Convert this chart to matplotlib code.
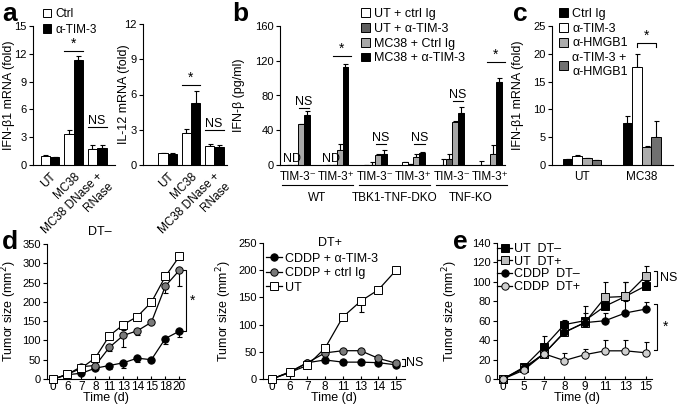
import numpy as np
import matplotlib.pyplot as plt

plt.rcParams['font.family'] = ['Liberation Sans', 'DejaVu Sans']
plt.rcParams['font.size'] = 8
plt.rcParams['axes.labelsize'] = 9
plt.rcParams['axes.linewidth'] = 0.8
plt.rcParams['xtick.major.size'] = 3
plt.rcParams['ytick.major.size'] = 3
plt.rcParams['xtick.major.width'] = 0.8
plt.rcParams['ytick.major.width'] = 0.8
plt.rcParams['xtick.major.pad'] = 2
plt.rcParams['ytick.major.pad'] = 1.5

# ---- panel a ----
a_groups = ['UT', 'MC38', 'MC38 DNase +\nRNase']
ifn_ctrl = [1.0, 3.3, 1.75]
ifn_ctrl_err = [0.05, 0.45, 0.4]
ifn_tim3 = [0.85, 11.3, 1.8]
ifn_tim3_err = [0.05, 0.45, 0.4]
il12_ctrl = [1.0, 2.7, 1.65]
il12_ctrl_err = [0.03, 0.35, 0.1]
il12_tim3 = [0.95, 5.3, 1.5]
il12_tim3_err = [0.03, 1.0, 0.2]

# ---- panel b ----
b_cells = ['TIM-3⁻', 'TIM-3⁺', 'TIM-3⁻', 'TIM-3⁺', 'TIM-3⁻', 'TIM-3⁺']
b_strains = ['WT', 'TBK1-TNF-DKO', 'TNF-KO']
b_series = ['UT + ctrl Ig', 'UT + α-TIM-3', 'MC38 + Ctrl Ig', 'MC38 + α-TIM-3']
b_ut_ctrl = [0, 0, 0, 3, 0, 0]
b_ut_ctrl_err = [0, 0, 0, 1, 7, 5]
b_ut_tim3 = [0, 0, 0, 1, 7, 0]
b_ut_tim3_err = [0, 0, 3, 0.5, 6, 0]
b_mc_ctrl = [47, 17, 12, 9, 49, 13]
b_mc_ctrl_err = [0.5, 7, 1, 4, 2, 10]
b_mc_tim3 = [57, 113, 13, 14, 60, 95]
b_mc_tim3_err = [5, 3, 4, 1, 7, 5]
b_nd = [True, True, False, False, False, False]
b_sig = ['NS', '*', 'NS', 'NS', 'NS', '*']
b_sig_y = [66, 126, 24, 24, 74, 119]

# ---- panel c ----
c_groups = ['UT', 'MC38']
c_series = ['Ctrl Ig', 'α-TIM-3', 'α-HMGB1', 'α-TIM-3 +\nα-HMGB1']
c_ctrl = [1.0, 7.6]
c_ctrl_err = [0.05, 1.2]
c_tim3 = [1.7, 17.6]
c_tim3_err = [0.1, 2.3]
c_hmgb1 = [1.2, 3.3]
c_hmgb1_err = [0.05, 0.1]
c_both = [0.9, 5.1]
c_both_err = [0.05, 2.9]

# ---- panel d ----
d1_days = ['0', '6', '7', '8', '11', '13', '14', '15', '18', '20']
d1_ut = [0, 12, 28, 55, 112, 141, 162, 199, 266, 318]
d1_ut_lo = [0, 2, 3, 5, 5, 15, 5, 5, 5, 5]
d1_ctrl = [0, 12, 32, 35, 82, 113, 125, 147, 241, 282]
d1_ctrl_lo = [0, 2, 3, 5, 10, 29, 12, 5, 18, 40]
d1_tim3 = [0, 11, 15, 28, 35, 42, 54, 50, 105, 124]
d1_tim3_lo = [0, 2, 3, 4, 8, 13, 11, 5, 15, 15]

d2_days = ['0', '6', '7', '8', '11', '13', '14', '15']
d2_ut = [0, 12, 25, 57, 114, 143, 164, 200]
d2_ut_lo = [0, 2, 3, 5, 4, 20, 3, 4]
d2_ctrl = [0, 13, 30, 48, 52, 52, 38, 29]
d2_ctrl_lo = [0, 2, 3, 4, 3, 3, 3, 3]
d2_tim3 = [0, 12, 30, 35, 31, 31, 30, 26]
d2_tim3_lo = [0, 2, 3, 6, 5, 5, 4, 4]

# ---- panel e ----
e_days = ['0', '5', '7', '8', '9', '11', '13', '15']
e_ut_m = [0, 12, 33, 56, 60, 75, 85, 96]
e_ut_m_hi = [0, 3, 11, 5, 15, 10, 15, 5]
e_ut_p = [0, 11, 26, 48, 58, 84, 85, 106]
e_ut_p_hi = [0, 3, 5, 5, 10, 16, 15, 10]
e_cddp_m = [0, 11, 26, 48, 58, 60, 68, 72]
e_cddp_m_hi = [0, 3, 5, 5, 5, 8, 12, 7]
e_cddp_p = [0, 9, 26, 19, 25, 29, 29, 27]
e_cddp_p_hi = [0, 3, 5, 8, 6, 11, 11, 11]

W, H = 677, 412
fig = plt.figure(figsize=(W / 100, H / 100), dpi=100)


def box(x0, x1, y0, y1):
    ax = fig.add_axes([x0 / W, 1 - y1 / H, (x1 - x0) / W, (y1 - y0) / H])
    ax.spines[['top', 'right']].set_visible(False)
    return ax


def ftext(x, y, s, **kw):
    fig.text(x / W, 1 - y / H, s, **kw)


def bars(ax, x, vals, errs, color, w):
    errs = np.asarray(errs, float)
    b = ax.bar(x, vals, w, color=color, edgecolor='black', linewidth=0.7, zorder=2)
    ax.errorbar(x, vals, yerr=[np.zeros_like(errs), errs], fmt='none', ecolor='black',
                elinewidth=0.8, capsize=1.8, capthick=0.8, zorder=1)
    return b


def sig(ax, x0, x1, y, s, dy=0.0):
    ax.plot([x0, x1], [y, y], color='black', lw=0.8, clip_on=False)
    ax.text((x0 + x1) / 2, y + dy, s, ha='center', va='bottom',
            fontsize=9 if s == 'NS' else 10, clip_on=False)


def leg_kw(**kw):
    d = dict(frameon=False, handlelength=0.7, handleheight=0.7, handletextpad=0.35,
             labelspacing=0.3, borderpad=0, borderaxespad=0, fontsize=8.5)
    d.update(kw)
    return d


# panel labels
for lab, x, y in [('a', 10, 14), ('b', 240, 14), ('c', 520, 14), ('d', 10, 242), ('e', 460, 242)]:
    ftext(x, y, lab, fontsize=19, fontweight='bold', ha='center', va='center')

# ---------- a1 ----------
w = 0.4
xa = np.arange(3)
ax = box(33, 115, 26, 165)
h1 = bars(ax, xa - w / 2, ifn_ctrl, ifn_ctrl_err, 'white', w)
h2 = bars(ax, xa + w / 2, ifn_tim3, ifn_tim3_err, 'black', w)
ax.set_xlim(-0.72, 2.76)
ax.set_ylim(0, 15)
ax.set_yticks([0, 3, 6, 9, 12, 15])
ax.set_xticks(xa)
ax.set_xticklabels(a_groups, rotation=45, ha='right', rotation_mode='anchor',
                   multialignment='right', fontsize=8.5)
ax.tick_params(axis='x', length=0, pad=4)
ax.set_ylabel('IFN-β1 mRNA (fold)')
ax.yaxis.set_label_coords(-0.22, 0.5)
sig(ax, 1 - w, 1 + w, 12.3, '*')
sig(ax, 2 - w, 2 + w, 4.1, 'NS')
fig.legend([h1, h2], ['Ctrl', 'α-TIM-3'], loc='upper left',
           bbox_to_anchor=(43 / W, 1 - 8 / H), **leg_kw())

# ---------- a2 ----------
ax = box(143, 227, 24, 165)
bars(ax, xa - w / 2, il12_ctrl, il12_ctrl_err, 'white', w)
bars(ax, xa + w / 2, il12_tim3, il12_tim3_err, 'black', w)
ax.set_xlim(-1.05, 2.55)
ax.set_ylim(0, 12)
ax.set_yticks([0, 3, 6, 9, 12])
ax.set_xticks(xa)
ax.set_xticklabels(a_groups, rotation=45, ha='right', rotation_mode='anchor',
                   multialignment='right', fontsize=8.5)
ax.tick_params(axis='x', length=0, pad=4)
ax.set_ylabel('IL-12 mRNA (fold)')
ax.yaxis.set_label_coords(-0.16, 0.5)
sig(ax, 1 - w, 1 + w, 6.8, '*')
sig(ax, 2 - w, 2 + w, 3.0, 'NS')

# ---------- b ----------
wb = 0.155
xb = np.arange(6)
ax = box(280, 505, 26, 165)
hb = [bars(ax, xb - 1.5 * wb, b_ut_ctrl, b_ut_ctrl_err, 'white', wb),
      bars(ax, xb - 0.5 * wb, b_ut_tim3, b_ut_tim3_err, '#5e5e5e', wb),
      bars(ax, xb + 0.5 * wb, b_mc_ctrl, b_mc_ctrl_err, '#a8a8a8', wb),
      bars(ax, xb + 1.5 * wb, b_mc_tim3, b_mc_tim3_err, 'black', wb)]
ax.set_xlim(-0.47, 5.38)
ax.set_ylim(0, 160)
ax.set_yticks([0, 40, 80, 120, 160])
ax.set_xticks(xb)
ax.set_xticklabels(b_cells, fontsize=8.5)
ax.tick_params(axis='x', length=0, pad=4)
ax.set_ylabel('IFN-β (pg/ml)')
ax.yaxis.set_label_coords(-0.155, 0.5)
for i in range(6):
    if b_nd[i]:
        ax.text(xb[i] - wb, 0.5, 'ND', ha='center', va='bottom', fontsize=9)
    if b_sig[i] == 'NS':
        sig(ax, xb[i] + 0.5 * wb - 0.06, xb[i] + 1.5 * wb + 0.06, b_sig_y[i], 'NS')
    else:
        sig(ax, xb[i] - 0.1, xb[i] + 1.5 * wb + 0.15, b_sig_y[i], '*')
tr = ax.get_xaxis_transform()
for k, name in enumerate(b_strains):
    ax.plot([2 * k - 0.42, 2 * k + 1.43], [-0.144, -0.144], color='black', lw=0.8,
            transform=tr, clip_on=False)
    ax.text(2 * k + 0.5, -0.235, name, ha='center', va='center', transform=tr, fontsize=8.5)
fig.legend(hb, b_series, loc='upper left', bbox_to_anchor=(361 / W, 1 - 8 / H),
           **leg_kw(fontsize=9, labelspacing=0.22))

# ---------- c ----------
wc = 0.16
xc = np.arange(2)
ax = box(552, 673, 26, 165)
hc = [bars(ax, xc - 1.5 * wc, c_ctrl, c_ctrl_err, 'black', wc),
      bars(ax, xc - 0.5 * wc, c_tim3, c_tim3_err, 'white', wc),
      bars(ax, xc + 0.5 * wc, c_hmgb1, c_hmgb1_err, '#acacac', wc),
      bars(ax, xc + 1.5 * wc, c_both, c_both_err, '#707070', wc)]
ax.set_xlim(-0.5, 1.52)
ax.set_ylim(0, 25)
ax.set_yticks([0, 5, 10, 15, 20, 25])
ax.set_xticks(xc)
ax.set_xticklabels(c_groups, fontsize=8.5)
ax.tick_params(axis='x', length=0, pad=4)
ax.set_ylabel('IFN-β1 mRNA (fold)')
ax.yaxis.set_label_coords(-0.23, 0.5)
bx0, bx1 = 1 - 0.5 * wc, 1 + 1.5 * wc
ax.plot([bx0, bx0, bx1, bx1], [21.2, 21.9, 21.9, 21.2], color='black', lw=0.8)
ax.text((bx0 + bx1) / 2, 21.9, '*', ha='center', va='bottom', fontsize=10)
fig.legend(hc, c_series, loc='upper left', bbox_to_anchor=(559 / W, 1 - 8 / H),
           **leg_kw(fontsize=9, labelspacing=0.22))


def curve(ax, y, lo, hi, marker, face, label=None):
    x = np.arange(len(y))
    ax.errorbar(x, y, yerr=[lo, hi], fmt='none', ecolor='black', elinewidth=0.8,
                capsize=1.8, capthick=0.8, zorder=1)
    return ax.plot(x, y, '-', color='black', lw=0.9, marker=marker, markersize=5.3,
                   markerfacecolor=face, markeredgecolor='black', markeredgewidth=0.7,
                   label=label, zorder=3, clip_on=False)[0]


def time_axis(ax, days, xc_px, x0_px, w_px):
    ax.set_xticks(range(len(days)))
    ax.set_xticklabels(days, fontsize=8.5)
    ax.tick_params(axis='x', direction='in', length=2.5, pad=1.5)
    ax.set_xlabel('Time (d)')
    ax.xaxis.set_label_coords((xc_px - x0_px) / w_px, -0.095)


# ---------- d1 ----------
ax = box(47, 185, 244, 379)
z = np.zeros(len(d1_days))
curve(ax, d1_tim3, d1_tim3_lo, z, 'o', 'black')
curve(ax, d1_ctrl, d1_ctrl_lo, z, 'o', '#7a7a7a')
curve(ax, d1_ut, d1_ut_lo, z, 's', 'white')
ax.set_xlim(-0.45, 9.4)
ax.set_ylim(0, 350)
ax.set_yticks(range(0, 351, 50))
time_axis(ax, d1_days, 106, 47, 138)
ax.set_ylabel('Tumor size (mm$^2$)')
ax.yaxis.set_label_coords(-0.205, 0.5)
ax.set_title('DT–', fontsize=9, pad=0, y=1.07, x=(100 - 47) / 138)
bx = 9.45
ax.plot([bx - 0.25, bx, bx, bx - 0.25], [d1_ctrl[-1], d1_ctrl[-1], d1_tim3[-1], d1_tim3[-1]],
        color='black', lw=0.8, clip_on=False)
ax.text(bx + 0.3, (d1_ctrl[-1] + d1_tim3[-1]) / 2, '*', ha='left', va='center', fontsize=10)

# ---------- d2 ----------
ax = box(263, 405, 243, 379)
z = np.zeros(len(d2_days))
l1 = curve(ax, d2_tim3, d2_tim3_lo, z, 'o', 'black', 'CDDP + α-TIM-3')
l2 = curve(ax, d2_ctrl, d2_ctrl_lo, z, 'o', '#7a7a7a', 'CDDP + ctrl Ig')
l3 = curve(ax, d2_ut, d2_ut_lo, z, 's', 'white', 'UT')
ax.set_xlim(-0.5, 7.5)
ax.set_ylim(0, 250)
ax.set_yticks(range(0, 251, 50))
time_axis(ax, d2_days, 334, 263, 142)
ax.set_ylabel('Tumor size (mm$^2$)')
ax.yaxis.set_label_coords(-0.204, 0.5)
ax.set_title('DT+', fontsize=9, pad=0, y=0.98, x=(330 - 263) / 142)
ax.legend(handles=[l1, l2, l3], loc='upper left', bbox_to_anchor=(0.02, 0.93),
          frameon=False, handlelength=1.3, handletextpad=0.2, labelspacing=0.2,
          borderpad=0, borderaxespad=0, fontsize=9)
bx = 7.35
ax.plot([bx, bx + 0.15, bx + 0.15, bx], [37, 37, 23, 23], color='black', lw=0.8, clip_on=False)
ax.text(bx + 0.22, 30, 'NS', ha='left', va='center', fontsize=9)

# ---------- e ----------
ax = box(497, 652, 243, 379)
z = np.zeros(len(e_days))
m1 = curve(ax, e_ut_m, z, e_ut_m_hi, 's', 'black', 'UT  DT–')
m2 = curve(ax, e_ut_p, z, e_ut_p_hi, 's', '#bdbdbd', 'UT  DT+')
m3 = curve(ax, e_cddp_m, z, e_cddp_m_hi, 'o', 'black', 'CDDP  DT–')
m4 = curve(ax, e_cddp_p, z, e_cddp_p_hi, 'o', '#cfcfcf', 'CDDP  DT+')
ax.set_xlim(-0.3, 7.3)
ax.set_ylim(0, 140)
ax.set_yticks(range(0, 141, 20))
time_axis(ax, e_days, 577, 497, 155)
ax.set_ylabel('Tumor size (mm$^2$)')
ax.yaxis.set_label_coords(-0.239, 0.5)
ax.legend(handles=[m1, m2, m3, m4], loc='upper left', bbox_to_anchor=(0.0, 1.0),
          frameon=False, handlelength=1.2, handletextpad=0.2, labelspacing=0.05,
          borderpad=0, borderaxespad=0, fontsize=9)
bx = 7.55
ax.plot([bx - 0.15, bx, bx, bx - 0.15], [111, 111, 96, 96], color='black', lw=0.8, clip_on=False)
ax.text(bx + 0.15, 103.5, 'NS', ha='left', va='center', fontsize=9)
ax.plot([bx - 0.15, bx, bx, bx - 0.15], [77, 77, 30, 30], color='black', lw=0.8, clip_on=False)
ax.text(bx + 0.3, 54, '*', ha='left', va='center', fontsize=10)

fig.savefig('out.png', dpi=100)
